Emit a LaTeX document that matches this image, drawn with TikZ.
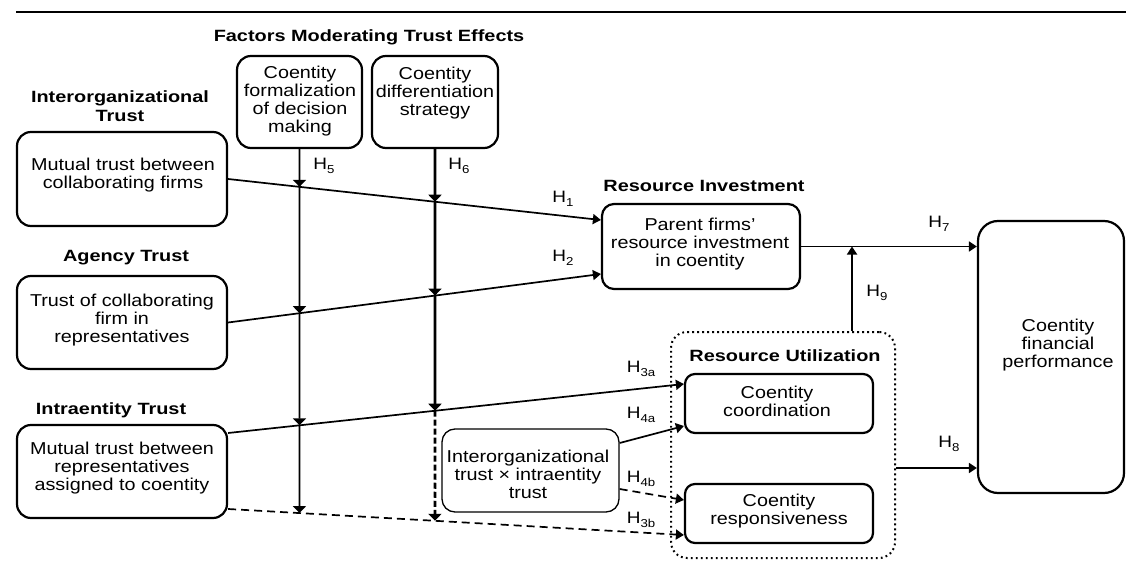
\documentclass[tikz,border=0pt]{standalone}
\usepackage{fontspec}
\setmainfont[FakeStretch=1.15]{Liberation Sans}
\newfontfamily\headfont[FakeStretch=1.22]{Liberation Sans}
\usetikzlibrary{arrows.meta}

% hypothesis label with a lowered index
\newcommand\hname[1]{H\raisebox{-4pt}{\fontsize{11.5}{12}\selectfont #1}}

\begin{document}
\begin{tikzpicture}[x=1pt,y=-1pt,
  box/.style={draw, line width=2.2pt, rounded corners=#1, inner sep=0pt},
  box/.default=14pt,
  txt/.style={align=center, inner sep=0pt, font=\fontsize{17.2}{18}\selectfont},
  head/.style={align=center, inner sep=0pt, font=\headfont\bfseries\fontsize{16.3}{19}\selectfont},
  hyp/.style={inner sep=0pt, font=\fontsize{16.5}{18}\selectfont},
  conn/.style={line width=1.7pt, -{Triangle[length=8pt,width=10pt]}},
  mod/.style={line width=1.7pt, -{Triangle[length=7pt,width=13pt]}},
  modthick/.style={line width=2.6pt, -{Triangle[length=7pt,width=13pt]}},
  dashline/.style={dash pattern=on 8pt off 5pt},
]
\useasboundingbox (0,0) rectangle (1126,569);

% top rule
\draw[line width=2.2pt] (16,12) -- (1126,12);

% section headings
\node[head] (hFac) at (369,37) {Factors Moderating Trust Effects};
\node[head] (hInter) at (120,106.5) {Interorganizational\\Trust};
\node[head] (hAgency) at (126,258) {Agency Trust};
\node[head] (hIntra) at (111,410) {Intraentity Trust};
\node[head] (hInv) at (704,186) {Resource Investment};

% boxes
\node[box, minimum width=210pt, minimum height=94pt] (A) at (122,179) {};
\node[txt] (At) at (123,175) {Mutual trust between\\collaborating firms};

\node[box, minimum width=210pt, minimum height=93pt] (B) at (122,322.5) {};
\node[txt] (Bt) at (122,320) {Trust of collaborating\\firm in\\representatives};

\node[box, minimum width=210pt, minimum height=93pt] (C) at (122,471.5) {};
\node[txt] (Ct) at (122,468) {Mutual trust between\\representatives\\assigned to coentity};

\node[box, minimum width=125pt, minimum height=92pt] (F1) at (299.5,102) {};
\node[txt] (F1t) at (300,101.5) {Coentity\\formalization\\of decision\\making};

\node[box, minimum width=126pt, minimum height=92pt] (F2) at (435,102) {};
\node[txt] (F2t) at (435,93) {Coentity\\differentiation\\strategy};

\node[box=12pt, minimum width=198pt, minimum height=85pt] (RI) at (701,246.5) {};
\node[txt] (RIt) at (700,244) {Parent firms'\\resource investment\\in coentity};

\node[draw, line width=1.3pt, rounded corners=13pt, inner sep=0pt,
      minimum width=177pt, minimum height=83pt] (Int) at (530.5,470.5) {};
\node[txt] (Intt) at (528,474) {Interorganizational\\trust × intraentity\\trust};

\node[draw, line width=2pt, dash pattern=on 1.8pt off 3.2pt, rounded corners=16pt,
      inner sep=0pt, minimum width=224pt, minimum height=226pt] (RU) at (783,445) {};
\node[head] (hUtil) at (785,356) {Resource Utilization};

\node[box=10pt, minimum width=188pt, minimum height=59pt] (Coord) at (779,403.5) {};
\node[txt] (Coordt) at (777,401) {Coentity\\coordination};

\node[box=10pt, minimum width=188pt, minimum height=59pt] (Resp) at (779,513.5) {};
\node[txt] (Respt) at (779,511) {Coentity\\responsiveness};

\node[box=20pt, minimum width=146pt, minimum height=272pt] (CFP) at (1051,357) {};
\node[txt] (CFPt) at (1058,345) {Coentity\\financial\\performance};

% main effects
\draw[conn] (A.east) -- ([yshift=26.5pt]RI.west);
\draw[conn] (B.east) -- ([yshift=-27.5pt]RI.west);
\draw[conn] ([yshift=38.5pt]C.east) -- ([yshift=19.5pt]Coord.west);
\draw[conn, dashline] ([yshift=-37.5pt]C.east) -- ([yshift=-21.5pt]Resp.west);
\draw[conn] ([yshift=27.5pt]Int.east) -- ([yshift=-22.5pt]Coord.west);
\draw[conn, dashline] ([yshift=-18.5pt]Int.east) -- ([yshift=13.5pt]Resp.west);
\draw[conn] (RI.east) -- (RI.east -| CFP.west);
\coordinate (ruOut) at ([yshift=-23pt]RU.east);
\draw[conn] (ruOut) -- (ruOut -| CFP.west);
\coordinate (ruTop) at ([xshift=69pt]RU.north);
\draw[conn] (ruTop) -- (ruTop |- RI.east);

% moderating paths: crossing points on each main effect
\coordinate (m1a) at (intersection cs: first line={(F1.south)--(F1.south|-C.south)},
  second line={(A.east)--([yshift=26.5pt]RI.west)});
\coordinate (m1b) at (intersection cs: first line={(F1.south)--(F1.south|-C.south)},
  second line={(B.east)--([yshift=-27.5pt]RI.west)});
\coordinate (m1c) at (intersection cs: first line={(F1.south)--(F1.south|-C.south)},
  second line={([yshift=38.5pt]C.east)--([yshift=19.5pt]Coord.west)});
\coordinate (m1d) at (intersection cs: first line={(F1.south)--(F1.south|-C.south)},
  second line={([yshift=-37.5pt]C.east)--([yshift=-21.5pt]Resp.west)});
\coordinate (m2a) at (intersection cs: first line={(F2.south)--(F2.south|-C.south)},
  second line={(A.east)--([yshift=26.5pt]RI.west)});
\coordinate (m2b) at (intersection cs: first line={(F2.south)--(F2.south|-C.south)},
  second line={(B.east)--([yshift=-27.5pt]RI.west)});
\coordinate (m2c) at (intersection cs: first line={(F2.south)--(F2.south|-C.south)},
  second line={([yshift=38.5pt]C.east)--([yshift=19.5pt]Coord.west)});
\coordinate (m2d) at (intersection cs: first line={(F2.south)--(F2.south|-C.south)},
  second line={([yshift=-37.5pt]C.east)--([yshift=-21.5pt]Resp.west)});

\draw[mod] (F1.south) -- (m1a);
\draw[mod] (m1a) -- (m1b);
\draw[mod] (m1b) -- (m1c);
\draw[mod] (m1c) -- (m1d);
\draw[modthick] (F2.south) -- (m2a);
\draw[modthick] (m2a) -- (m2b);
\draw[modthick] (m2b) -- (m2c);
\draw[modthick, dash pattern=on 6pt off 3pt] (m2c) -- (m2d);

% hypothesis labels
\node[hyp] (H5) at (324,166) {\hname{5}};
\node[hyp] (H6) at (459,166) {\hname{6}};
\node[hyp] (H1) at (563,199) {\hname{1}};
\node[hyp] (H2) at (563,258) {\hname{2}};
\node[hyp] (H7) at (939,224) {\hname{7}};
\node[hyp] (H9) at (877,293) {\hname{9}};
\node[hyp] (H3a) at (641,369) {\hname{3a}};
\node[hyp] (H4a) at (641,415) {\hname{4a}};
\node[hyp] (H4b) at (641,479) {\hname{4b}};
\node[hyp] (H3b) at (641,520) {\hname{3b}};
\node[hyp] (H8) at (949,444) {\hname{8}};
\end{tikzpicture}
\end{document}
